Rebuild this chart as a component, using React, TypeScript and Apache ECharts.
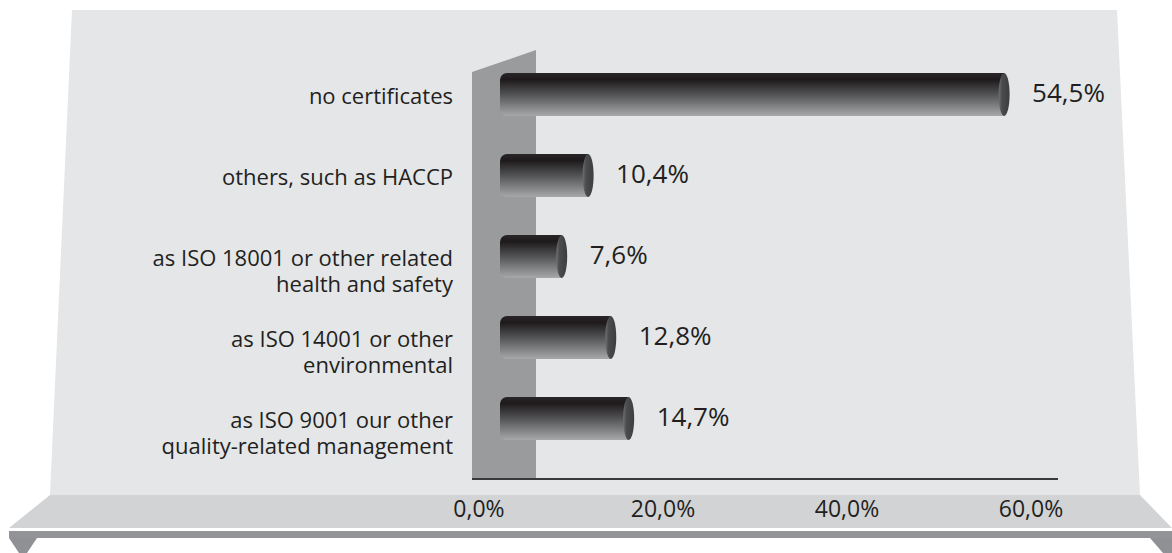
import React, { useEffect, useRef } from "react";
import * as echarts from "echarts";

const categories = [
  "no certificates",
  "others, such as HACCP",
  "as ISO 18001 or other related\nhealth and safety",
  "as ISO 14001 or other\nenvironmental",
  "as ISO 9001 our other\nquality-related management",
];
const values = [54.5, 10.4, 7.6, 12.8, 14.7];
const axisMin = 0;
const axisMax = 60;
const axisStep = 20;

const FONT = "'Open Sans', 'Noto Sans', sans-serif";
const TEXT = "#231f20";

const fmt = (v: number) => v.toFixed(1).replace(".", ",") + "%";

export default function App() {
  const ref = useRef<HTMLDivElement>(null);
  useEffect(() => {
    if (!ref.current) return;
    const chart = echarts.init(ref.current, null, { renderer: "svg" });
    const bodyFill = new echarts.graphic.LinearGradient(0, 0, 0, 1, [
      { offset: 0, color: "#2a2627" },
      { offset: 0.15, color: "#1e1a1b" },
      { offset: 0.5, color: "#525355" },
      { offset: 1, color: "#a6a8aa" },
    ]);
    const capFill = new echarts.graphic.LinearGradient(0, 0, 1, 0, [
      { offset: 0, color: "#707173" },
      { offset: 0.3, color: "#4b4c4e" },
      { offset: 1, color: "#3c3d3f" },
    ]);
    const option: any = {
      animation: false,
      backgroundColor: "#ffffff",
      graphic: [
        { type: "polygon", z: -10, shape: { points: [[72, 10], [1117, 10], [1140, 495], [50, 495]] }, style: { fill: "#e4e6e8" } },
        { type: "polygon", z: -10, shape: { points: [[50, 495], [1140, 495], [1172, 528], [9, 528]] }, style: { fill: "#d1d3d5" } },
        { type: "rect", z: -10, shape: { x: 9, y: 531, width: 1163, height: 7 }, style: { fill: "#929497" } },
        { type: "polygon", z: -10, shape: { points: [[9, 538], [37, 538], [27, 553], [19, 553]] }, style: { fill: "#8f9194" } },
        { type: "polygon", z: -10, shape: { points: [[1150, 538], [1172, 538], [1172, 553], [1163, 553]] }, style: { fill: "#8f9194" } },
        { type: "polygon", z: -5, shape: { points: [[472, 72], [536, 50], [536, 479], [472, 479]] }, style: { fill: "#9a9b9d" } },
        { type: "line", z: -4, shape: { x1: 472, y1: 479, x2: 1058, y2: 479 }, style: { stroke: "#3a3a3c", lineWidth: 2 } },
      ],
      grid: [
        { left: 490, width: 566, top: 54, height: 405 },
        { left: 479, width: 552, top: 400, height: 95 },
      ],
      xAxis: [
        {
          gridIndex: 0, type: "value", min: axisMin, max: axisMax, interval: axisStep,
          axisLine: { show: false }, axisTick: { show: false }, axisLabel: { show: false }, splitLine: { show: false },
        },
        {
          gridIndex: 1, type: "value", min: axisMin, max: axisMax, interval: axisStep, z: 10,
          axisLine: { show: false }, axisTick: { show: false }, splitLine: { show: false },
          axisLabel: { margin: 1, fontSize: 23, fontFamily: FONT, color: TEXT, formatter: (v: number) => fmt(v) },
        },
      ],
      yAxis: [
        {
          gridIndex: 0, type: "category", inverse: true, z: 10,
          data: categories,
          axisLine: { show: false }, axisTick: { show: false }, splitLine: { show: false },
          axisLabel: {
            margin: 37, fontSize: 22, lineHeight: 26, fontFamily: FONT, color: TEXT, align: "right", verticalAlign: "middle",
            formatter: (v: string) => (v.includes("\n") ? " \n" + v : v),
          },
        },
        { gridIndex: 1, type: "value", show: false },
      ],
      series: [
        {
          type: "custom",
          xAxisIndex: 0,
          yAxisIndex: 0,
          encode: { x: 0, y: 1 },
          data: values.map((v, i) => [v, i]),
          renderItem: (params: any, api: any) => {
            const v = api.value(0) as number;
            const idx = api.value(1);
            const start = api.coord([0, idx]);
            const end = api.coord([v, idx]);
            const band = (api.size([0, 1]) as number[])[1];
            const h = band * 0.53;
            const cy = start[1];
            const left = start[0] + 10;
            const right = end[0];
            return {
              type: "group",
              children: [
                { type: "rect", shape: { x: left, y: cy - h / 2, width: right - left, height: h, r: [7, 0, 0, 7] }, style: { fill: bodyFill } },
                { type: "ellipse", shape: { cx: right, cy, rx: 5.5, ry: h / 2 }, style: { fill: capFill } },
                {
                  type: "text",
                  style: { text: fmt(v), x: right + 28, y: cy - 3, align: "left", verticalAlign: "middle", fontSize: 26, fontFamily: FONT, fill: TEXT },
                },
              ],
            };
          },
        },
      ],
    };
    chart.setOption(option);
    return () => chart.dispose();
  }, []);
  return <div ref={ref} style={{ position: "fixed", left: 0, top: 0, width: 1172, height: 553 }} />;
}
